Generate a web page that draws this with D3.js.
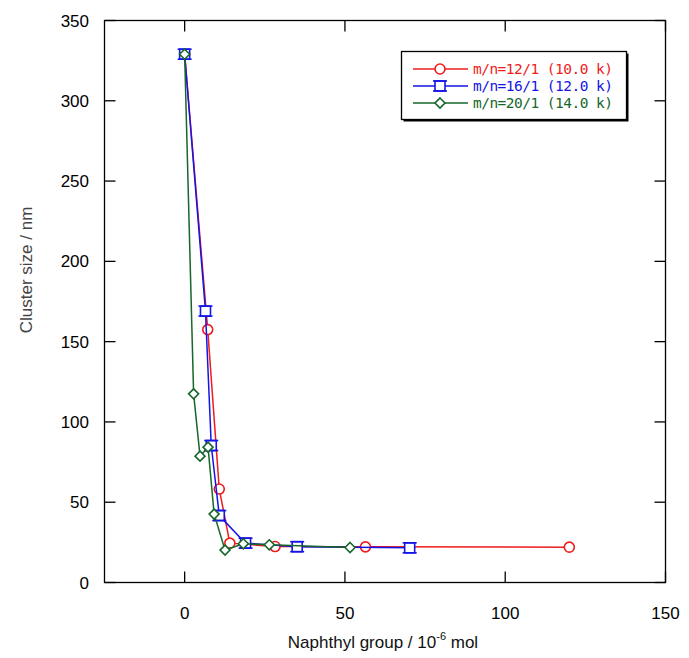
<!DOCTYPE html>
<html>
<head>
<meta charset="utf-8">
<script src="https://cdn.jsdelivr.net/npm/d3@7"></script>
<style>
  body { margin: 0; background: #fff; }
  text { font-family: "Liberation Sans", Arial, sans-serif; }
  text.legend { font-family: "DejaVu Sans Mono", monospace; }
</style>
</head>
<body>
<div id="chart"></div>
<script>
// ------------------------- data ------------------------//

var seriesNames = ["m/n=12/1 (10.0 k)", "m/n=16/1 (12.0 k)", "m/n=20/1 (14.0 k)"];
var seriesColors = ["#ee1c1c", "#1414e6", "#17672b"];
var seriesSymbols = ["circle", "square", "diamond"];

var x12 = [0, 7.2, 10.8, 14.1, 28.2, 56.4, 120];
var y12 = [329, 157.5, 58.2, 24.5, 22.4, 22.2, 22.0];

var x16 = [0, 6.5, 8.3, 10.8, 19.0, 35.1, 70.2];
var y16 = [329, 169, 85.3, 41.7, 24.5, 22.3, 21.6];

var x20 = [0, 2.8, 4.8, 7.3, 9.2, 12.6, 18.3, 26.4, 51.6];
var y20 = [329, 117.5, 78.7, 84.3, 42.6, 20.2, 24.1, 23.5, 21.8];

var xTicks = [0, 50, 100, 150];
var yTicks = [0, 50, 100, 150, 200, 250, 300, 350];

// ------------------------- svg init ------------------------//

var width = 689,
  height = 658;
var margin = { top: 20.5, right: 23.5, bottom: 75.5, left: 104.5 };

var svg = d3.select("#chart").append("svg")
  .attr("width", width)
  .attr("height", height);

var x = d3.scaleLinear().domain([-25, 150]).range([margin.left, width - margin.right]);
var y = d3.scaleLinear().domain([0, 350]).range([height - margin.bottom, margin.top]);

var series = [
  { name: seriesNames[0], color: seriesColors[0], symbol: seriesSymbols[0], pts: x12.map(function (d, i) { return [d, y12[i]]; }) },
  { name: seriesNames[1], color: seriesColors[1], symbol: seriesSymbols[1], pts: x16.map(function (d, i) { return [d, y16[i]]; }) },
  { name: seriesNames[2], color: seriesColors[2], symbol: seriesSymbols[2], pts: x20.map(function (d, i) { return [d, y20[i]]; }) }
];

// ------------------------- axes ------------------------//

var tickLen = 11;
var axisG = svg.append("g").attr("stroke", "#000").attr("stroke-width", 1.3).attr("fill", "none");

axisG.append("rect")
  .attr("x", x.range()[0]).attr("y", y.range()[1])
  .attr("width", x.range()[1] - x.range()[0])
  .attr("height", y.range()[0] - y.range()[1]);

// bottom / top ticks pointing in
xTicks.forEach(function (t) {
  axisG.append("line").attr("x1", x(t)).attr("x2", x(t)).attr("y1", y(0)).attr("y2", y(0) - tickLen);
  axisG.append("line").attr("x1", x(t)).attr("x2", x(t)).attr("y1", y(350)).attr("y2", y(350) + tickLen);
});
// left / right ticks pointing in
yTicks.forEach(function (t) {
  axisG.append("line").attr("x1", x(-25)).attr("x2", x(-25) + tickLen).attr("y1", y(t)).attr("y2", y(t));
  axisG.append("line").attr("x1", x(150)).attr("x2", x(150) - tickLen).attr("y1", y(t)).attr("y2", y(t));
});

svg.append("g").selectAll("text").data(xTicks).enter().append("text")
  .attr("x", function (d) { return x(d); })
  .attr("y", 619)
  .attr("text-anchor", "middle")
  .attr("font-size", 17)
  .text(function (d) { return d; });

svg.append("g").selectAll("text").data(yTicks).enter().append("text")
  .attr("x", 89)
  .attr("y", function (d) { return y(d) + 6; })
  .attr("text-anchor", "end")
  .attr("font-size", 17)
  .text(function (d) { return d; });

// axis titles
var xt = svg.append("text")
  .attr("x", 383).attr("y", 648)
  .attr("text-anchor", "middle")
  .attr("font-size", 17)
  .attr("fill", "#111");
xt.append("tspan").text("Naphthyl group / 10");
xt.append("tspan").attr("dy", -8).attr("font-size", 11).text("-6");
xt.append("tspan").attr("dy", 8).text(" mol");

svg.append("text")
  .attr("transform", "translate(32,270) rotate(-90)")
  .attr("text-anchor", "middle")
  .attr("font-size", 17)
  .attr("fill", "#444")
  .text("Cluster size / nm");

// ------------------------- marks ------------------------//

function drawSymbol(g, sym, color, cx, cy) {
  if (sym === "circle") {
    g.append("circle").attr("cx", cx).attr("cy", cy).attr("r", 5)
      .attr("fill", "#fff").attr("stroke", color).attr("stroke-width", 1.6);
  } else if (sym === "square") {
    g.append("rect").attr("x", cx - 5).attr("y", cy - 5).attr("width", 10).attr("height", 10)
      .attr("fill", "#fff").attr("stroke", color).attr("stroke-width", 1.6);
    g.append("line").attr("x1", cx - 7).attr("x2", cx + 7).attr("y1", cy - 5).attr("y2", cy - 5)
      .attr("stroke", color).attr("stroke-width", 1.6);
    g.append("line").attr("x1", cx - 7).attr("x2", cx + 7).attr("y1", cy + 5).attr("y2", cy + 5)
      .attr("stroke", color).attr("stroke-width", 1.6);
  } else {
    g.append("path")
      .attr("d", "M" + cx + "," + (cy - 5) + "L" + (cx + 5) + "," + cy + "L" + cx + "," + (cy + 5) + "L" + (cx - 5) + "," + cy + "Z")
      .attr("fill", "#fff").attr("stroke", color).attr("stroke-width", 1.6);
  }
}

var line = d3.line()
  .x(function (d) { return x(d[0]); })
  .y(function (d) { return y(d[1]); });

series.forEach(function (s) {
  var g = svg.append("g");
  g.append("path")
    .attr("d", line(s.pts))
    .attr("fill", "none")
    .attr("stroke", s.color)
    .attr("stroke-width", 1.5);
  s.pts.forEach(function (p) {
    drawSymbol(g, s.symbol, s.color, x(p[0]), y(p[1]));
  });
});

// ------------------------- legend ------------------------//

var lg = svg.append("g");
lg.append("rect")
  .attr("x", 403.5).attr("y", 53.5).attr("width", 225).attr("height", 68)
  .attr("fill", "#000");
lg.append("rect")
  .attr("x", 401.5).attr("y", 51.5).attr("width", 225).attr("height", 68)
  .attr("fill", "#fff").attr("stroke", "#000").attr("stroke-width", 1.3);

series.forEach(function (s, i) {
  var ly = 69 + i * 17;
  lg.append("line")
    .attr("x1", 413).attr("x2", 468).attr("y1", ly).attr("y2", ly)
    .attr("stroke", s.color).attr("stroke-width", 1.5);
  drawSymbol(lg, s.symbol, s.color, 440, ly);
  lg.append("text")
    .attr("class", "legend")
    .attr("x", 473).attr("y", ly + 5)
    .attr("font-size", 14.5)
    .attr("textLength", 140)
    .attr("lengthAdjust", "spacing")
    .attr("fill", s.color)
    .text(s.name);
});
</script>
</body>
</html>
